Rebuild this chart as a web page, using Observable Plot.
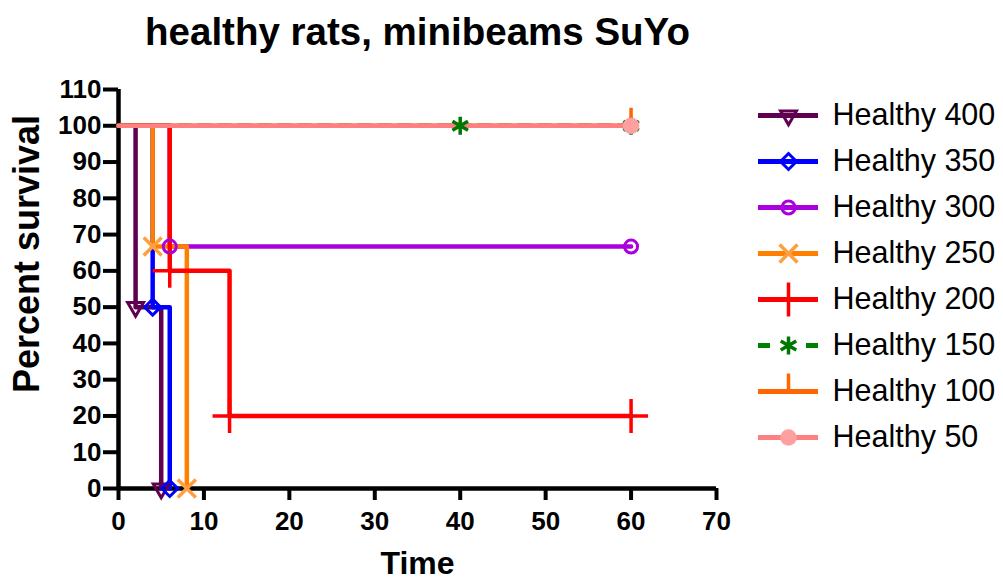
<!DOCTYPE html>
<html><head><meta charset="utf-8">
<script src="https://cdn.jsdelivr.net/npm/d3@7"></script>
<script src="https://cdn.jsdelivr.net/npm/@observablehq/plot@0.6"></script>
<style>
html,body{margin:0;padding:0;background:#fff;}
#wrap{position:relative;width:1003px;height:580px;overflow:hidden;}
#legend{position:absolute;left:750px;top:0;}
#chart svg, #legend svg{display:block;}
</style></head><body>
<div id="wrap"><div id="chart"></div><div id="legend"></div></div>
<script>
// ---- data ----
const seriesNames = ["Healthy 400","Healthy 350","Healthy 300","Healthy 250","Healthy 200","Healthy 150","Healthy 100","Healthy 50"];
const time400 = [0, 2, 5];        const surv400 = [100, 50, 0];
const time350 = [0, 4, 6];        const surv350 = [100, 50, 0];
const time300 = [0, 6, 60];       const surv300 = [100, 66.7, 66.7];
const time250 = [0, 4, 8];        const surv250 = [100, 66.7, 0];
const time200 = [0, 6, 13, 60];   const surv200 = [100, 60, 20, 20];
const time150 = [0, 40, 60];      const surv150 = [100, 100, 100];
const time100 = [0, 60];          const surv100 = [100, 100];
const time50  = [0, 60];          const surv50  = [100, 100];
const xTicks = [0, 10, 20, 30, 40, 50, 60, 70];
const yTicks = [0, 10, 20, 30, 40, 50, 60, 70, 80, 90, 100, 110];
const titleText = "healthy rats, minibeams SuYo";
const xLabel = "Time";
const yLabel = "Percent survival";

// ---- custom symbols ----
const bigPlus = {draw(ctx, size){const r = Math.sqrt(size/Math.PI); ctx.moveTo(-r,0); ctx.lineTo(r,0); ctx.moveTo(0,-r); ctx.lineTo(0,r);}};
const tickUp = {draw(ctx, size){const r = Math.sqrt(size/Math.PI); ctx.moveTo(0,0); ctx.lineTo(0,-r);}};

// ---- styles ----
const times = [time400, time350, time300, time250, time200, time150, time100, time50];
const survs = [surv400, surv350, surv300, surv250, surv200, surv150, surv100, surv50];
const styles = [
  {line:"#600050", mark:"#600050", symbol:"triangle2", r:7.6, rotate:180, fill:"none", sw:3},
  {line:"#0000FF", mark:"#0000FF", symbol:"diamond2", r:7.2, rotate:0, fill:"none", sw:3},
  {line:"#AA00DD", mark:"#AA00DD", symbol:"circle", r:6.5, rotate:0, fill:"none", sw:3},
  {line:"#FF8000", mark:"#FFA040", symbol:"times", r:8.2, rotate:0, fill:"none", sw:3.5},
  {line:"#FF0000", mark:"#FF0000", symbol:bigPlus, r:17, rotate:0, fill:"none", sw:3.5},
  {line:"#008000", mark:"#007700", symbol:"asterisk", r:8.5, rotate:0, fill:"none", sw:3.5, dash:"12 8", legendDash:"12 36"},
  {line:"#FF6600", mark:"#FF6600", symbol:tickUp, r:18, rotate:0, fill:"none", sw:3.5},
  {line:"#FF8080", mark:"none", symbol:"circle", r:8.3, rotate:0, fill:"#FFA0A0", sw:0}
];

const font = "'Liberation Sans', Arial, Helvetica, sans-serif";

const lineMarks = styles.map((st, k) => Plot.line(
  times[k].map((t, i) => ({t, s: survs[k][i]})),
  {x:"t", y:"s", curve:"step-after", stroke:st.line, strokeWidth:4.5, strokeDasharray:st.dash}
));
const dotMarks = styles.map((st, k) => Plot.dot(
  times[k].slice(1).map((t, i) => ({t, s: survs[k][i+1]})),
  {x:"t", y:"s", symbol:st.symbol, r:st.r, rotate:st.rotate, stroke:st.mark, fill:st.fill, strokeWidth:st.sw}
));

const chart = Plot.plot({
  width:1003, height:580,
  marginLeft:118, marginRight:287, marginTop:89, marginBottom:92,
  x:{domain:[0,70]},
  y:{domain:[0,110]},
  style:{fontFamily:font, background:"white", color:"black", overflow:"visible"},
  marks:[
    Plot.axisX({ticks:xTicks, tickSize:12, tickPadding:11, fontSize:26, fontWeight:"bold", strokeWidth:4, label:null, tickFormat:d=>String(d)}),
    Plot.axisY({ticks:yTicks, tickSize:15, tickPadding:2, fontSize:26, fontWeight:"bold", strokeWidth:4, label:null, tickFormat:d=>String(d)}),
    Plot.ruleX([0], {strokeWidth:4.5, stroke:"black"}),
    Plot.ruleY([0], {strokeWidth:4.5, stroke:"black"}),
    ...lineMarks,
    ...dotMarks,
    Plot.text([titleText], {text:d=>d, frameAnchor:"top", dy:-72, fontSize:38.5, fontWeight:"bold", textAnchor:"middle"}),
    Plot.text([xLabel], {text:d=>d, frameAnchor:"bottom", dy:85, fontSize:32, fontWeight:"bold", textAnchor:"middle"}),
    Plot.text([yLabel], {text:d=>d, frameAnchor:"left", dx:-91, dy:-35, rotate:-90, fontSize:36, fontWeight:"bold", textAnchor:"middle"})
  ]
});
document.getElementById("chart").append(chart);

const legend = Plot.plot({
  width:253, height:580,
  marginLeft:8, marginRight:185, marginTop:115, marginBottom:143,
  y:{domain:seriesNames, padding:0, axis:null},
  style:{fontFamily:font, background:"transparent", color:"black", overflow:"visible"},
  marks:[
    ...styles.map((st, k) => Plot.tickY([seriesNames[k]], {y:v=>v, stroke:st.line, strokeWidth:5, strokeDasharray:st.legendDash})),
    ...styles.map((st, k) => Plot.dot([seriesNames[k]], {y:v=>v, symbol:st.symbol, r:st.r, rotate:st.rotate, stroke:st.mark, fill:st.fill, strokeWidth:st.sw})),
    Plot.text(seriesNames, {y:v=>v, text:v=>v, frameAnchor:"right", dx:14, textAnchor:"start", fontSize:30.5})
  ]
});
document.getElementById("legend").append(legend);
</script>
</body></html>
